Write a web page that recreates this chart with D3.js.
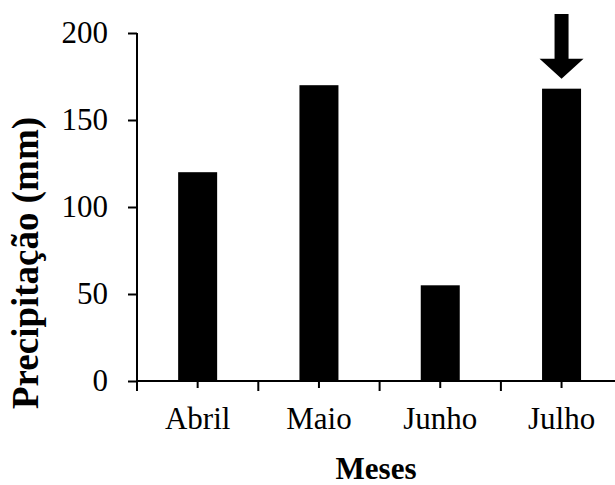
<!DOCTYPE html>
<html>
<head>
<meta charset="utf-8">
<script src="https://cdn.jsdelivr.net/npm/d3@7"></script>
<style>
  html, body { margin: 0; padding: 0; background: #fff; }
  svg { display: block; }
  text { font-family: "Liberation Serif", "Times New Roman", serif; fill: #000; }
</style>
</head>
<body>
<svg id="chart" width="615" height="485"></svg>
<script>
const categories = ["Abril", "Maio", "Junho", "Julho"];
const values = [120, 170, 55, 168];
const yTicks = [0, 50, 100, 150, 200];
const highlighted = ["Julho"];
const xTitle = "Meses";
const yTitle = "Precipitação (mm)";

const svg = d3.select("#chart");
const x0 = 137, yBottom = 381, yTop = 33, step = 121.3;

const x = d3.scaleBand().domain(categories).range([x0, x0 + step * categories.length]).paddingInner(0).paddingOuter(0);
const y = d3.scaleLinear().domain([0, 200]).range([yBottom, yTop]);
const barW = 39;

// bars
svg.append("g").selectAll("rect").data(categories).join("rect")
  .attr("x", (d) => x(d) + x.bandwidth() / 2 - barW / 2)
  .attr("y", (d, i) => y(values[i]))
  .attr("width", barW)
  .attr("height", (d, i) => y(0) - y(values[i]))
  .attr("fill", "#000");

// y axis
const yAxis = d3.axisLeft(y).tickValues(yTicks).tickSize(9).tickPadding(20).tickSizeOuter(0);
const gy = svg.append("g").attr("transform", `translate(${x0},0)`).call(yAxis);
gy.attr("font-family", null);
gy.select(".domain").attr("stroke", "#000").attr("stroke-width", 2).attr("d", `M0,${yTop}V${yBottom}`);
gy.selectAll(".tick line").attr("stroke", "#000").attr("stroke-width", 2);
gy.selectAll(".tick text").style("font-size", "31px").attr("fill", "#000");

// x axis line
svg.append("line").attr("x1", x0 - 1).attr("x2", 615).attr("y1", yBottom).attr("y2", yBottom)
  .attr("stroke", "#000").attr("stroke-width", 2);
// boundary ticks
const bounds = categories.map((c) => x(c));
svg.append("g").selectAll("line").data(bounds).join("line")
  .attr("x1", (d) => d).attr("x2", (d) => d).attr("y1", yBottom).attr("y2", yBottom + 10)
  .attr("stroke", "#000").attr("stroke-width", 2);
// center ticks
svg.append("g").selectAll("line").data(categories).join("line")
  .attr("x1", (d) => x(d) + x.bandwidth() / 2).attr("x2", (d) => x(d) + x.bandwidth() / 2)
  .attr("y1", yBottom).attr("y2", yBottom + 7)
  .attr("stroke", "#000").attr("stroke-width", 2);
// category labels
svg.append("g").selectAll("text").data(categories).join("text")
  .attr("x", (d) => x(d) + x.bandwidth() / 2).attr("y", 429)
  .attr("text-anchor", "middle").style("font-size", "31px").text((d) => d);

// arrow over highlighted
highlighted.forEach((c) => {
  const cx = x(c) + x.bandwidth() / 2;
  const tip = y(values[categories.indexOf(c)]) - 10;
  svg.append("path")
    .attr("d", `M${cx - 7},14 H${cx + 7} V${tip - 20} H${cx + 22} L${cx},${tip} L${cx - 22},${tip - 20} H${cx - 7} Z`)
    .attr("fill", "#000");
});

// titles
svg.append("text").attr("x", 376).attr("y", 479).attr("text-anchor", "middle")
  .style("font-size", "31px").style("font-weight", "bold").text(xTitle);
svg.append("text").attr("transform", "translate(38,263) rotate(-90)").attr("text-anchor", "middle")
  .style("font-size", "37px").style("font-weight", "bold").text(yTitle);
</script>
</body>
</html>
